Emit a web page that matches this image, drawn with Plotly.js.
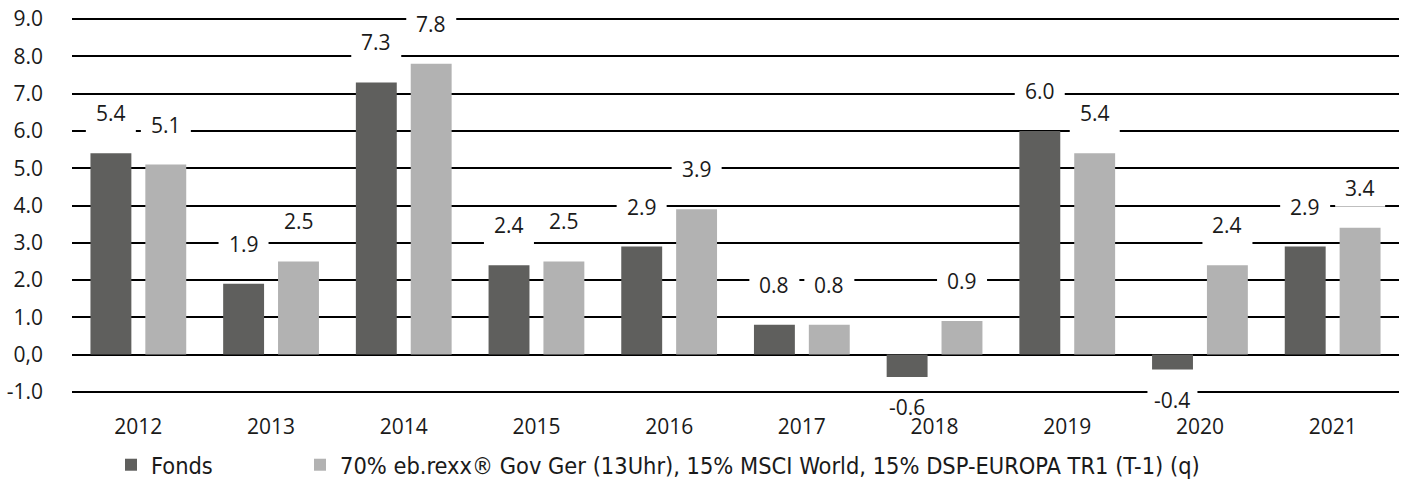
<!DOCTYPE html>
<html>
<head>
<meta charset="utf-8">
<script src="https://cdn.plot.ly/plotly-3.0.1.min.js"></script>
<style>html,body{margin:0;padding:0;background:#fff;}#chart{width:1406px;height:479px;}</style>
</head>
<body>
<div id="chart"></div>
<script>
const years = ['2012','2013','2014','2015','2016','2017','2018','2019','2020','2021'];
const fonds = [5.4, 1.9, 7.3, 2.4, 2.9, 0.8, -0.6, 6.0, -0.4, 2.9];
const bench = [5.1, 2.5, 7.8, 2.5, 3.9, 0.8, 0.9, 5.4, 2.4, 3.4];
const fondsLabels = ['5.4','1.9','7.3','2.4','2.9','0.8','-0.6','6.0','-0.4','2.9'];
const benchLabels = ['5.1','2.5','7.8','2.5','3.9','0.8','0.9','5.4','2.4','3.4'];
const seriesNames = ['Fonds', '70% eb.rexx® Gov Ger (13Uhr), 15% MSCI World, 15% DSP-EUROPA TR1 (T-1) (q)'];
const yTickVals = [-1, 0, 1, 2, 3, 4, 5, 6, 7, 8, 9];
const yTickText = ['-1.0', '0,0', '1.0', '2.0', '3.0', '4.0', '5.0', '6.0', '7.0', '8.0', '9.0'];

const colors = ['#5f5f5d', '#b2b2b2'];
const legendIds = ['legend', 'legend2'];
const tickFont = {family: 'Open Sans, Noto Sans, sans-serif', size: 21, color: '#1a1a1a'};
const legendFont = {family: 'DejaVu Sans Condensed, Liberation Sans Narrow, sans-serif', size: 23.4, color: '#1a1a1a'};

const traces = [fonds, bench].map((vals, k) => ({
  type: 'bar',
  x: years,
  y: vals,
  name: seriesNames[k],
  legend: legendIds[k],
  marker: {color: colors[k], line: {width: 0}},
  hoverinfo: 'skip'
}));

const annotations = [];
const shapes = [];
const offsetPx = 27.5;
[[fonds, fondsLabels, -1], [bench, benchLabels, 1]].forEach(([vals, labels, side]) => {
  vals.forEach((v, i) => {
    const up = v >= 0;
    const ys = up ? 40 : -30;
    annotations.push({
      x: i, y: v, xref: 'x', yref: 'y',
      xshift: side * offsetPx, yshift: ys,
      text: labels[i], showarrow: false,
      xanchor: 'center', yanchor: 'middle',
      font: tickFont
    });
    shapes.push({
      type: 'rect', layer: 'between',
      xref: 'x', yref: 'y',
      xsizemode: 'pixel', ysizemode: 'pixel',
      xanchor: i, yanchor: v,
      x0: side * offsetPx - 25, x1: side * offsetPx + 25,
      y0: ys - 19, y1: ys + 14,
      fillcolor: '#ffffff', line: {width: 0}
    });
  });
});

const legendBase = {
  orientation: 'h', xref: 'container', yref: 'container',
  xanchor: 'left', y: 0.0292, yanchor: 'middle',
  font: legendFont, itemwidth: 30, bgcolor: 'rgba(0,0,0,0)', borderwidth: 0
};

const layout = {
  width: 1406, height: 479,
  margin: {l: 72, r: 7, t: 18, b: 86, pad: 0, autoexpand: false},
  paper_bgcolor: '#ffffff', plot_bgcolor: '#ffffff',
  barmode: 'group', bargap: 0.173, bargroupgap: 0.2545,
  showlegend: true,
  legend: Object.assign({}, legendBase, {x: 111 / 1406}),
  legend2: Object.assign({}, legendBase, {x: 300 / 1406}),
  xaxis: {
    type: 'category', showgrid: false, zeroline: false, showline: false,
    ticks: '', tickfont: tickFont, ticklabelstandoff: 19, fixedrange: true
  },
  yaxis: {
    range: [-1.03, 9.03], tickmode: 'array', tickvals: yTickVals, ticktext: yTickText,
    showgrid: true, gridcolor: '#000000', gridwidth: 2,
    zeroline: true, zerolinecolor: '#000000', zerolinewidth: 2,
    showline: false, ticks: '', tickfont: tickFont, ticklabelstandoff: 28, fixedrange: true
  },
  annotations: annotations,
  shapes: shapes
};

Plotly.newPlot('chart', traces, layout, {staticPlot: true, displayModeBar: false});
</script>
</body>
</html>
